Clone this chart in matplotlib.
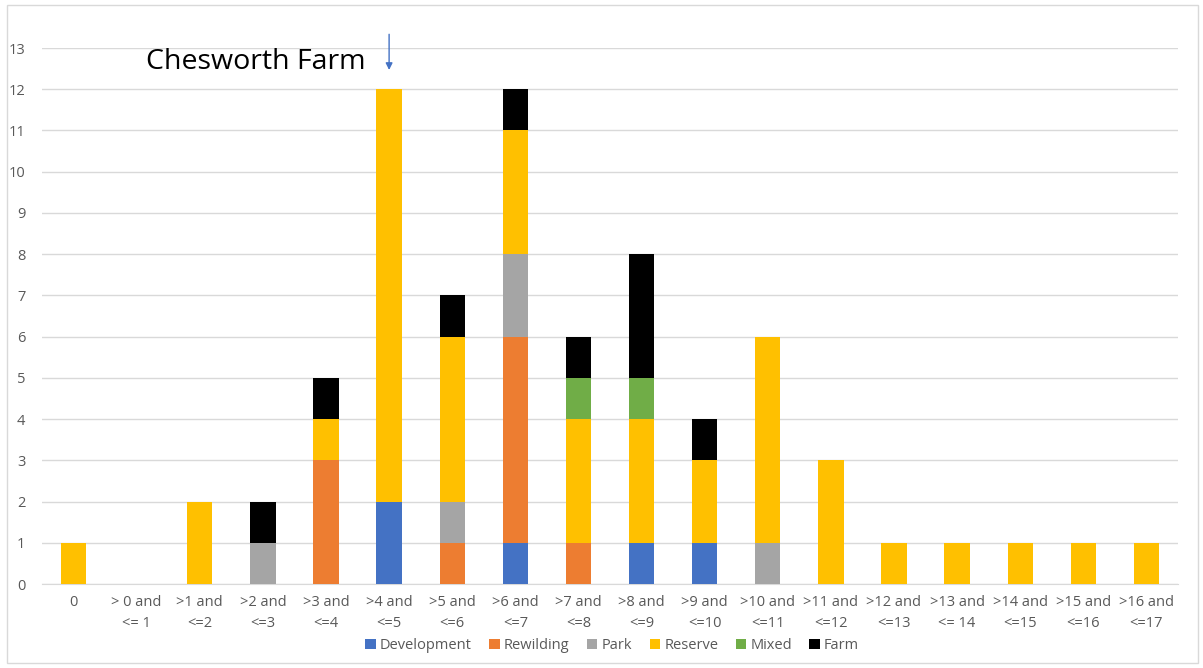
"""
Stacked bar chart of site counts by band, split by land use.
"""
import matplotlib.pyplot as plt
import numpy as np
from matplotlib.patches import Rectangle

categories = ['0', '> 0 and\n<= 1', '>1 and\n<=2', '>2 and\n<=3', '>3 and\n<=4',
              '>4 and\n<=5', '>5 and\n<=6', '>6 and\n<=7', '>7 and\n<=8',
              '>8 and\n<=9', '>9 and\n<=10', '>10 and\n<=11', '>11 and\n<=12',
              '>12 and\n<=13', '>13 and\n<= 14', '>14 and\n<=15', '>15 and\n<=16',
              '>16 and\n<=17']

development = [0, 0, 0, 0, 0, 2, 0, 1, 0, 1, 1, 0, 0, 0, 0, 0, 0, 0]
rewilding = [0, 0, 0, 0, 3, 0, 1, 5, 1, 0, 0, 0, 0, 0, 0, 0, 0, 0]
park = [0, 0, 0, 1, 0, 0, 1, 2, 0, 0, 0, 1, 0, 0, 0, 0, 0, 0]
reserve = [1, 0, 2, 0, 1, 10, 4, 3, 3, 3, 2, 5, 3, 1, 1, 1, 1, 1]
mixed = [0, 0, 0, 0, 0, 0, 0, 0, 1, 1, 0, 0, 0, 0, 0, 0, 0, 0]
farm = [0, 0, 0, 1, 1, 0, 1, 1, 1, 3, 1, 0, 0, 0, 0, 0, 0, 0]

series = [('Development', development, '#4472C4'),
          ('Rewilding', rewilding, '#ED7D31'),
          ('Park', park, '#A5A5A5'),
          ('Reserve', reserve, '#FFC000'),
          ('Mixed', mixed, '#70AD47'),
          ('Farm', farm, '#000000')]

annotation = 'Chesworth Farm'
annotation_bar = 5

plt.rcParams['font.family'] = ['Open Sans', 'DejaVu Sans']

fig = plt.figure(figsize=(12.03, 6.68), dpi=100)
fig.patches.append(Rectangle((0.006, 0.007), 0.99, 0.985, transform=fig.transFigure,
                             fill=False, edgecolor='#D9D9D9', linewidth=1))
ax = fig.add_axes([42 / 1203, 84 / 668, 1136 / 1203, 536 / 668])

x = np.arange(len(categories))
bottom = np.zeros(len(categories))
for name, vals, color in series:
    vals = np.array(vals, dtype=float)
    ax.bar(x, vals, width=0.4, bottom=bottom, color=color, label=name, zorder=3)
    bottom += vals

ax.set_xlim(-0.5, len(categories) - 0.5)
ax.set_ylim(0, 13)
ax.set_yticks(range(0, 14))
ax.set_xticks(x)
ax.set_xticklabels(categories, linespacing=1.55)
ax.tick_params(axis='both', length=0, colors='#595959', labelsize=10.5)
ax.tick_params(axis='x', pad=8)
ax.tick_params(axis='y', pad=12)
ax.grid(axis='y', color='#D9D9D9', linewidth=1, zorder=0)
for side in ['top', 'right', 'left']:
    ax.spines[side].set_visible(False)
ax.spines['bottom'].set_color('#D9D9D9')

ax.text(2.88, 12.66, annotation, fontsize=20.5, ha='center', va='center', color='black')
ax.annotate('', xy=(annotation_bar, 12.4), xytext=(annotation_bar, 13.4),
            arrowprops=dict(arrowstyle='-|>', color='#4472C4', lw=1,
                            mutation_scale=10),
            annotation_clip=False)

fig.legend(loc='center', bbox_to_anchor=(0.509, 0.034), ncol=6, frameon=False,
           fontsize=10.5, handlelength=0.7, handleheight=0.7, handletextpad=0.3,
           columnspacing=1.2, labelcolor='#595959')

fig.savefig('out.png', dpi=100)
